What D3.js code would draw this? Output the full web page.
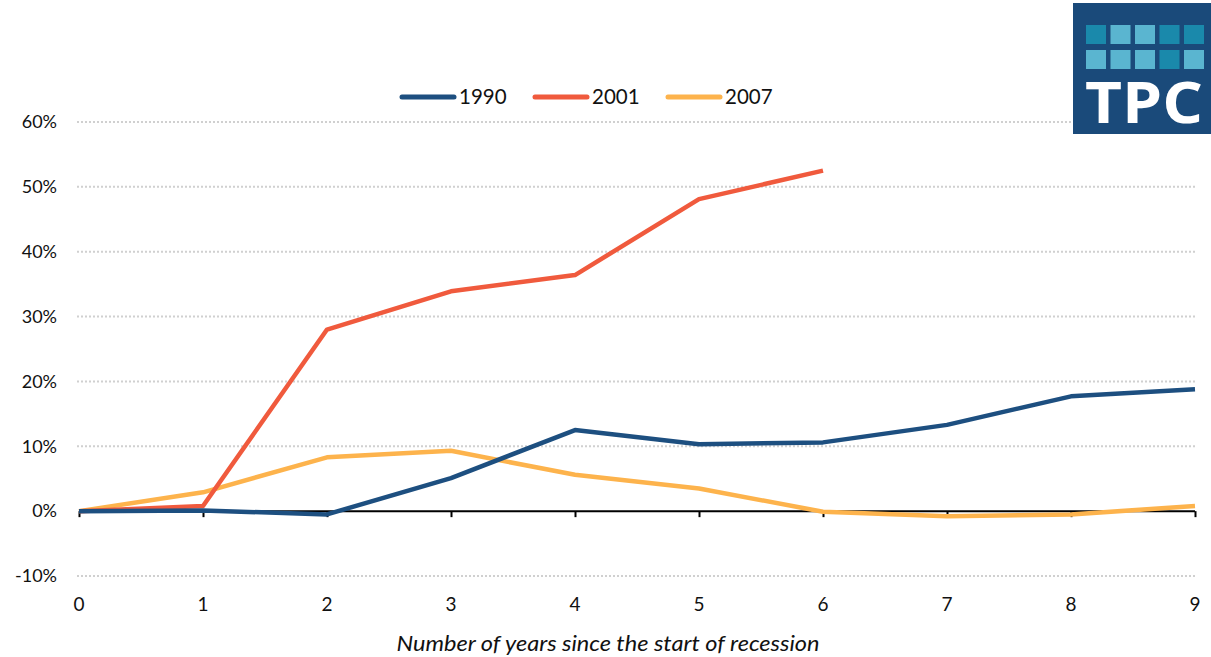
<!DOCTYPE html>
<html>
<head>
<meta charset="utf-8">
<script src="https://cdn.jsdelivr.net/npm/d3@7"></script>
<style>
  body { margin: 0; background: #fff; }
  svg { display: block; font-family: Lato, "Open Sans", sans-serif; }
</style>
</head>
<body>
<div id="chart"></div>
<script>
// years since start of recession
let years = [0, 1, 2, 3, 4, 5, 6, 7, 8, 9];
let yTicks = [-10, 0, 10, 20, 30, 40, 50, 60];

let series1990 = [0, 0.1, -0.5, 5.1, 12.5, 10.3, 10.6, 13.3, 17.7, 18.8];
let series2001 = [0, 0.8, 28.0, 33.9, 36.4, 48.1, 52.5];
let series2007 = [0, 2.9, 8.3, 9.3, 5.6, 3.5, -0.1, -0.8, -0.5, 0.8];

let names = ["1990", "2001", "2007"];
let colors = ["#1d4f80", "#f05a3d", "#fdb34c"];

let width = 1211;
let height = 657;

let svg = d3.select("#chart").append("svg")
  .attr("width", width)
  .attr("height", height);

let x = d3.scaleLinear().domain([0, 9]).range([79, 1195]);
let y = d3.scaleLinear().domain([-10, 60]).range([576, 122]);

// grid lines
svg.append("g")
  .selectAll("line")
  .data(yTicks.filter(function(d) { return d !== 0; }))
  .enter().append("line")
  .attr("x1", 77)
  .attr("x2", 1195)
  .attr("y1", function(d) { return y(d); })
  .attr("y2", function(d) { return y(d); })
  .attr("stroke", "#d0d0d0")
  .attr("stroke-width", 2)
  .attr("stroke-dasharray", "2,2");

// y labels
svg.append("g")
  .selectAll("text")
  .data(yTicks)
  .enter().append("text")
  .attr("x", 57)
  .attr("y", function(d) { return y(d); })
  .attr("dy", "0.35em")
  .attr("text-anchor", "end")
  .attr("font-size", 18)
  .attr("fill", "#111")
  .text(function(d) { return d + "%"; });

// zero axis with ticks
let xAxis = d3.axisBottom(x)
  .tickValues(years)
  .tickSize(6)
  .tickFormat("");

let axisG = svg.append("g")
  .attr("transform", "translate(0," + y(0) + ")")
  .call(xAxis);
axisG.select(".domain").attr("stroke", "#000").attr("stroke-width", 2).attr("d", "M" + x(0) + ",0H" + x(9));
axisG.selectAll(".tick line").attr("stroke", "#000").attr("stroke-width", 2);

// x labels
svg.append("g")
  .selectAll("text")
  .data(years)
  .enter().append("text")
  .attr("x", function(d) { return x(d); })
  .attr("y", 611)
  .attr("text-anchor", "middle")
  .attr("font-size", 19)
  .attr("fill", "#111")
  .text(function(d) { return d; });

svg.append("text")
  .attr("x", 608)
  .attr("y", 651)
  .attr("text-anchor", "middle")
  .attr("font-size", 22)
  .attr("font-style", "italic")
  .attr("fill", "#111")
  .attr("textLength", 423)
  .attr("lengthAdjust", "spacingAndGlyphs")
  .text("Number of years since the start of recession");

// lines
let line = d3.line()
  .x(function(d, i) { return x(years[i]); })
  .y(function(d) { return y(d); });

let allSeries = [series1990, series2001, series2007];
let drawOrder = [2, 1, 0];

drawOrder.forEach(function(k) {
  svg.append("path")
    .datum(allSeries[k])
    .attr("d", line)
    .attr("fill", "none")
    .attr("stroke", colors[k])
    .attr("stroke-width", 4.5)
    .attr("stroke-linejoin", "round");
});

// legend
let legendX = [402, 535, 668];
let lg = svg.append("g")
  .selectAll("g")
  .data(names)
  .enter().append("g")
  .attr("transform", function(d, i) { return "translate(" + legendX[i] + ",97)"; });

lg.append("line")
  .attr("x1", 0)
  .attr("x2", 52)
  .attr("stroke", function(d, i) { return colors[i]; })
  .attr("stroke-width", 5)
  .attr("stroke-linecap", "round");

lg.append("text")
  .attr("x", 57)
  .attr("dy", "0.35em")
  .attr("font-size", 20.5)
  .attr("fill", "#111")
  .text(function(d) { return d; });

// TPC logo
let logo = svg.append("g");
logo.append("rect")
  .attr("x", 1073).attr("y", 3)
  .attr("width", 138).attr("height", 131)
  .attr("fill", "#1a4a7a");

let squareColors = [
  ["#1a89ab", "#5ab5d0", "#5ab5d0", "#1a89ab", "#1a89ab"],
  ["#5ab5d0", "#5ab5d0", "#5ab5d0", "#1a89ab", "#5ab5d0"]
];
squareColors.forEach(function(row, r) {
  row.forEach(function(c, i) {
    logo.append("rect")
      .attr("x", 1086 + i * 24.5)
      .attr("y", 25 + r * 25)
      .attr("width", 20)
      .attr("height", 19)
      .attr("fill", c);
  });
});

logo.append("text")
  .attr("x", 1144)
  .attr("y", 123)
  .attr("text-anchor", "middle")
  .attr("font-size", 58)
  .attr("font-weight", "bold")
  .attr("font-family", "'Open Sans', Lato, sans-serif")
  .attr("fill", "#fff")
  .attr("textLength", 118)
  .attr("lengthAdjust", "spacingAndGlyphs")
  .text("TPC");
</script>
</body>
</html>
